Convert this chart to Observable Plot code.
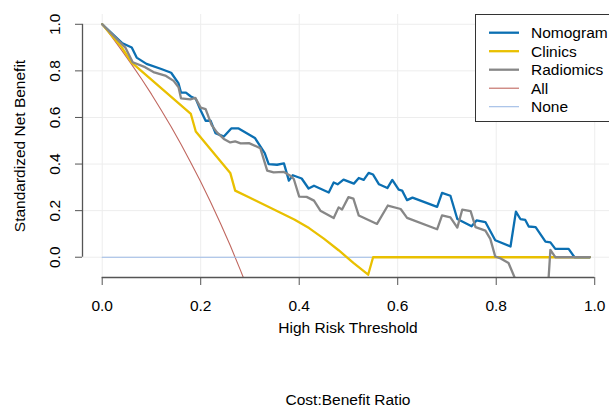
<!DOCTYPE html>
<html><head><meta charset="utf-8">
<script src="https://cdn.jsdelivr.net/npm/d3@7"></script>
<script src="https://cdn.jsdelivr.net/npm/@observablehq/plot@0.6"></script>
<style>
html,body{margin:0;padding:0;background:#fff;overflow:hidden;}
#chart{position:relative;width:609px;height:407px;overflow:hidden;}
</style></head><body><div id="chart"></div>
<script>
// ---- data ----
const seriesNames = ["Nomogram", "Clinics", "Radiomics", "All", "None"];
const seriesColors = ["#0b6fb2", "#e9c000", "#878787", "#c0675f", "#9dbbe6"];

const nomogramT = [0, 0.04, 0.06, 0.07, 0.09, 0.12, 0.14, 0.155, 0.16, 0.17, 0.18, 0.19, 0.20, 0.21, 0.22, 0.23, 0.247, 0.262, 0.277, 0.31, 0.33, 0.338, 0.355, 0.369, 0.379, 0.387, 0.405, 0.419, 0.43, 0.46, 0.47, 0.478, 0.49, 0.511, 0.521, 0.531, 0.541, 0.55, 0.562, 0.579, 0.589, 0.602, 0.609, 0.619, 0.63, 0.68, 0.69, 0.707, 0.721, 0.75, 0.76, 0.778, 0.798, 0.829, 0.84, 0.849, 0.859, 0.866, 0.88, 0.90, 0.91, 0.92, 0.947, 0.959, 0.99];
const nomogramNB = [1, 0.92, 0.90, 0.857, 0.83, 0.808, 0.792, 0.746, 0.707, 0.707, 0.69, 0.68, 0.63, 0.586, 0.586, 0.533, 0.518, 0.553, 0.553, 0.512, 0.447, 0.40, 0.397, 0.403, 0.329, 0.352, 0.338, 0.295, 0.307, 0.278, 0.321, 0.313, 0.333, 0.316, 0.34, 0.332, 0.362, 0.355, 0.313, 0.297, 0.332, 0.29, 0.286, 0.245, 0.256, 0.216, 0.276, 0.264, 0.164, 0.133, 0.158, 0.151, 0.073, 0.046, 0.196, 0.164, 0.16, 0.132, 0.129, 0.067, 0.064, 0.036, 0.036, 0, 0];

const clinicsT = [0, 0.04, 0.06, 0.18, 0.19, 0.26, 0.27, 0.30, 0.33, 0.36, 0.39, 0.42, 0.45, 0.48, 0.51, 0.54, 0.55, 0.99];
const clinicsNB = [1, 0.90, 0.835, 0.615, 0.54, 0.362, 0.286, 0.255, 0.224, 0.193, 0.162, 0.125, 0.08, 0.03, -0.024, -0.075, 0, 0];

const radiomicsT = [0, 0.047, 0.062, 0.087, 0.104, 0.128, 0.145, 0.155, 0.16, 0.179, 0.189, 0.20, 0.21, 0.222, 0.233, 0.247, 0.26, 0.27, 0.281, 0.298, 0.321, 0.335, 0.348, 0.369, 0.382, 0.389, 0.40, 0.415, 0.43, 0.443, 0.47, 0.48, 0.487, 0.50, 0.51, 0.521, 0.558, 0.58, 0.606, 0.619, 0.68, 0.69, 0.707, 0.721, 0.731, 0.748, 0.758, 0.778, 0.788, 0.798, 0.809, 0.825, 0.838, 0.845, 0.90, 0.91, 0.92, 0.99];
const radiomicsNB = [1, 0.90, 0.837, 0.816, 0.795, 0.78, 0.757, 0.73, 0.682, 0.678, 0.684, 0.642, 0.636, 0.568, 0.536, 0.508, 0.493, 0.497, 0.489, 0.49, 0.468, 0.372, 0.364, 0.366, 0.35, 0.336, 0.26, 0.259, 0.243, 0.2, 0.168, 0.214, 0.205, 0.258, 0.252, 0.179, 0.143, 0.222, 0.207, 0.169, 0.12, 0.18, 0.171, 0.127, 0.204, 0.198, 0.129, 0.114, 0.079, 0.003, -0.005, -0.025, -0.09, -0.3, -0.3, 0.032, 0, 0];

const allT = [0, 0.02, 0.04, 0.06, 0.08, 0.10, 0.12, 0.14, 0.16, 0.18, 0.20, 0.22, 0.24, 0.26, 0.28, 0.30];
const allNB = [1, 0.945, 0.887, 0.827, 0.765, 0.70, 0.631, 0.56, 0.485, 0.406, 0.324, 0.237, 0.146, 0.05, -0.052, -0.159];

const noneT = [0, 0.99];
const noneNB = [0, 0];

const xTicks = [0, 0.2, 0.4, 0.6, 0.8, 1.0];
const yTicks = [0, 0.2, 0.4, 0.6, 0.8, 1.0];
const xDomain = [-0.04, 1.03];
const yDomain = [-0.087, 1.042];
const xTitle = "High Risk Threshold";
const yTitle = "Standardized Net Benefit";
const cbTitle = "Cost:Benefit Ratio";

// ---- build table ----
const seriesT = [nomogramT, clinicsT, radiomicsT, allT, noneT];
const seriesNB = [nomogramNB, clinicsNB, radiomicsNB, allNB, noneNB];
const rows = seriesNames.flatMap((name, i) =>
  seriesT[i].map((t, j) => ({name, t, nb: seriesNB[i][j]})));
const thin = rows.filter(d => d.name === "All" || d.name === "None");
const thick = rows.filter(d => d.name !== "All" && d.name !== "None");
const fmt = d3.format(".1f");
const axisColor = "#555";

const chart = Plot.plot({
  width: 609,
  height: 407,
  marginLeft: 82,
  marginRight: 0,
  marginTop: 14,
  marginBottom: 130,
  style: {fontFamily: "'Liberation Sans', Arial, sans-serif", fontSize: "15.5px", background: "#fff", color: "#000"},
  x: {domain: xDomain},
  y: {domain: yDomain},
  color: {domain: seriesNames, range: seriesColors},
  marks: [
    Plot.gridX(xTicks, {stroke: "#ededed", strokeOpacity: 1}),
    Plot.gridY(yTicks, {stroke: "#ededed", strokeOpacity: 1}),
    Plot.line(thin, {x: "t", y: "nb", z: "name", stroke: "name", strokeWidth: 1.1, clip: "frame"}),
    Plot.line(thick, {x: "t", y: "nb", z: "name", stroke: "name", strokeWidth: 2.3, clip: "frame"}),
    Plot.ruleY([yDomain[0]], {x1: xTicks[0], x2: xTicks[xTicks.length - 1], stroke: axisColor, strokeWidth: 1.3}),
    Plot.ruleX([xDomain[0]], {y1: yTicks[0], y2: yTicks[yTicks.length - 1], stroke: axisColor, strokeWidth: 1.3}),
    Plot.axisX({ticks: xTicks, tickSize: 8, tickPadding: 14, tickFormat: fmt, label: null, stroke: axisColor, fill: "#000"}),
    Plot.axisY({ticks: yTicks, tickSize: 7, tickFormat: () => "", label: null, stroke: axisColor}),
    Plot.text(yTicks, {x: xDomain[0], y: d => d, text: fmt, rotate: -90, dx: -27, textAnchor: "middle", lineAnchor: "middle", fill: "#000"}),
    Plot.text([xTitle], {frameAnchor: "bottom", text: d => d, dy: 51, dx: 2, textAnchor: "middle", lineAnchor: "middle", fill: "#000"}),
    Plot.text([cbTitle], {frameAnchor: "bottom", text: d => d, dy: 123, dx: 2, textAnchor: "middle", lineAnchor: "middle", fill: "#000"}),
    Plot.text([yTitle], {frameAnchor: "left", text: d => d, rotate: -90, dx: -62, textAnchor: "middle", lineAnchor: "middle", fill: "#000"})
  ]
});
document.getElementById("chart").appendChild(chart);

// ---- legend (inside plot area, top right) ----
const svg = d3.select(chart);
const lg = svg.append("g").attr("font-family", "'Liberation Sans', Arial, sans-serif").attr("font-size", "15.5px").attr("text-anchor", "start");
lg.append("rect").attr("x", 475.5).attr("y", 14.5).attr("width", 160).attr("height", 107)
  .attr("fill", "#fff").attr("stroke", "#333").attr("stroke-width", 1);
seriesNames.forEach((name, i) => {
  const y = 32.7 + i * 18.5;
  const w = (name === "All" || name === "None") ? 1.1 : 2.3;
  lg.append("line").attr("x1", 489).attr("x2", 519).attr("y1", y).attr("y2", y)
    .attr("stroke", seriesColors[i]).attr("stroke-width", w);
  lg.append("text").attr("x", 531).attr("y", y).attr("dy", "0.35em").attr("text-anchor", "start").attr("fill", "#000").text(name);
});
</script></body></html>
